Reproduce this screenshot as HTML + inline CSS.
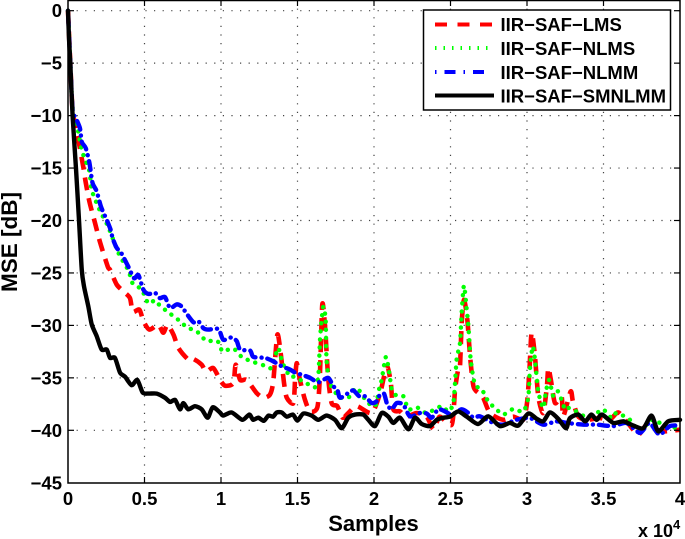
<!DOCTYPE html>
<html lang="en">
<head>
<meta charset="utf-8">
<title>MSE vs Samples</title>
<style>
html,body{margin:0;padding:0;background:#fff;width:685px;height:539px;overflow:hidden}
svg{display:block}
text{font-family:"Liberation Sans",sans-serif;font-weight:700;fill:#000}
.tick{font-size:18.5px}
.leg{font-size:18.5px}
</style>
</head>
<body>
<svg id="chart" width="685" height="539" viewBox="0 0 685 539" xmlns="http://www.w3.org/2000/svg">
<g id="grid"></g>
<g id="series"></g>
<rect x="68" y="0.5" width="612" height="482.5" fill="none" stroke="#000" stroke-width="1.5"></rect>
<g id="ticks"></g>
<text x="373.5" y="531" text-anchor="middle" font-size="22">Samples</text>
<text transform="translate(17,242) rotate(-90)" text-anchor="middle" font-size="22.5">MSE [dB]</text>
<text x="638" y="537" font-size="18">x 10<tspan font-size="13" dy="-8">4</tspan></text>
<g>
<rect x="423.5" y="10" width="247" height="100" fill="#fff" stroke="#000" stroke-width="1.5"></rect>
<line x1="435" y1="24.5" x2="492" y2="24.5" stroke="#f00" stroke-width="4" stroke-dasharray="12 10.5"></line>
<text class="leg" x="500.5" y="31">IIR−SAF−LMS</text>
<line x1="435" y1="48" x2="492" y2="48" stroke="#0f0" stroke-width="4" stroke-dasharray="1.5 7"></line>
<text class="leg" x="500.5" y="55">IIR−SAF−NLMS</text>
<line x1="435" y1="72" x2="492" y2="72" stroke="#00f" stroke-width="4" stroke-dasharray="1.5 8 11 8"></line>
<text class="leg" x="500.5" y="79">IIR−SAF−NLMM</text>
<line x1="435" y1="95.5" x2="494" y2="95.5" stroke="#000" stroke-width="4"></line>
<text class="leg" x="500.5" y="102.5">IIR−SAF−SMNLMM</text>
</g>
</svg>
<script>
const xTickValues = [0, 5000, 10000, 15000, 20000, 25000, 30000, 35000, 40000];
const xTickLabels = ['0', '0.5', '1', '1.5', '2', '2.5', '3', '3.5', '4'];
const yTickValues = [0, -5, -10, -15, -20, -25, -30, -35, -40, -45];
const yTickLabels = ['0', '−5', '−10', '−15', '−20', '−25', '−30', '−35', '−40', '−45'];

// sample index in thousands
const lmsSamples = [0,0.15,0.3,0.57,1,1.15,1.4,1.76,2.1,2.6,2.75,3.18,3.62,4.05,4.23,4.67,4.93,5.32,5.9,6.23,6.5,6.9,7.22,7.87,8.2,8.74,9.02,9.5,9.94,10.27,10.8,10.96,11.25,11.68,12.33,12.77,13.2,13.42,13.68,13.9,14.12,14.3,14.73,14.84,14.95,15.16,15.49,15.82,16.3,16.47,16.62,16.8,17,17.23,17.6,17.95,18.32,18.87,19.85,20.4,20.65,20.87,21.1,21.26,21.7,22.1,22.79,23.44,23.9,24.3,25.08,25.3,25.5,25.62,25.73,25.88,26.1,26.28,26.5,26.82,27.14,27.58,28.45,29.1,29.75,30,30.15,30.3,30.52,30.74,31.06,31.3,31.39,31.56,31.83,32.26,32.37,32.85,33,33.35,33.9,34.77,35.4,35.96,36.5,37.27,37.82,38.47,39,40];
const lmsValues = [0,-5,-9.5,-11.5,-14.9,-16.3,-18.2,-20.2,-22.1,-24.4,-24.7,-26.1,-26.76,-27.4,-28.7,-28.5,-29.6,-30.4,-29.94,-30.7,-29.94,-30.9,-32.16,-33.27,-33.2,-33.75,-34.4,-34.07,-35.2,-35.75,-35.5,-33.75,-35.2,-35.2,-36.45,-36.9,-36.6,-35.3,-30.9,-32.64,-35.5,-36.9,-37.4,-35.2,-33.6,-35.2,-37.1,-38.2,-37.8,-34.54,-28,-30.1,-34.9,-37.4,-37.7,-38.8,-38.35,-37.7,-38.35,-36.45,-34.9,-33.9,-35.5,-38,-38.2,-38.7,-38.35,-38.7,-39.9,-38.7,-39.46,-36.1,-34.2,-33.9,-29.8,-27.56,-29.46,-32.95,-35.8,-36.45,-36.9,-38.35,-39,-38.7,-39,-37.4,-34.54,-30.7,-32.95,-36.8,-38.35,-35.8,-34.06,-35.2,-37.4,-36.8,-38.67,-36.3,-37.24,-38.67,-39,-38.83,-39,-38.3,-39.14,-40.4,-39.46,-39.94,-40.1,-39.94];

const nlmsSamples = [0,0.15,0.3,0.6,0.9,1.4,1.55,2.1,2.63,3.3,3.93,4.05,4.23,4.82,5.25,5.69,6,6.56,7.2,7.76,8.41,8.74,9.07,9.68,9.94,10.1,10.8,11.35,12,12.77,13.25,13.53,13.75,14.03,14.5,14.77,15.49,16.14,16.36,16.47,16.58,16.69,16.84,16.9,17.12,17.67,17.89,18.32,18.87,19.52,20.07,20.35,20.5,20.78,21,21.16,21.48,21.92,22.25,22.79,23.44,24.42,24.86,25.2,25.4,25.62,25.73,25.88,26.06,26.17,26.32,26.6,27.03,27.47,28,28.45,29.1,29.75,30.08,30.19,30.37,30.52,30.74,31.06,31.24,31.45,31.72,32.04,32.48,32.7,33,33.8,34.55,34.98,35.53,35.86,36.73,37.38,38.14,39.1,40];
const nlmsValues = [0,-5,-9.3,-11,-13.3,-15.3,-17.1,-19.1,-20.6,-23.1,-24.7,-25.2,-26,-26.6,-27.9,-27.6,-28.1,-28.76,-29.46,-30.16,-30.57,-31.05,-31.5,-31.43,-31.84,-32.48,-32.2,-33,-33.43,-33.8,-34.07,-33,-32.16,-33.6,-34.86,-34.9,-35.43,-35.9,-34.86,-31.4,-29.46,-28.2,-29.46,-33.27,-35.5,-36.76,-36.9,-36.9,-35.97,-37.24,-37.7,-35.97,-35.2,-33,-34.54,-36.1,-36.7,-36.76,-38,-37.8,-38.35,-37.7,-38.2,-37.24,-33.27,-31.7,-28.8,-26.2,-28.5,-30.1,-33.27,-35.65,-36.06,-37.24,-38,-38.5,-37.97,-38.2,-36.9,-34.2,-32,-33.27,-36.3,-37.87,-36.3,-35.2,-36.76,-36.3,-38,-37.87,-38,-38.67,-38.35,-38,-38.83,-38.35,-39,-40.1,-39,-39.6,-39.8];

const nlmmSamples = [0,0.15,0.3,0.5,0.78,0.9,1.16,1.4,1.6,1.87,2.16,2.52,2.79,2.92,3.18,3.44,3.66,3.94,4.32,4.6,4.93,5.25,5.69,6,6.34,6.67,7.1,7.43,7.76,8.2,8.52,8.85,9.17,9.83,10.15,10.7,11.03,11.25,11.9,12.12,12.88,13.42,13.97,14.5,14.84,15.27,15.82,16.36,17,17.34,17.6,17.78,18.32,18.65,19.04,19.41,19.85,20.17,20.35,20.65,20.87,21.16,21.48,21.92,22.35,23,23.44,23.77,24.2,24.64,25.08,25.73,26.17,26.5,26.93,27.8,28.45,29.3,30.19,31.06,31.93,32.6,33.68,34.55,35.64,36.5,37.38,38,38.65,39.34,40];
const nlmmValues = [0,-5,-9.46,-10.2,-11.2,-12.5,-13.1,-14.5,-16.4,-17.2,-18.7,-19.9,-20.9,-21.7,-22.6,-23,-23.6,-24.4,-25.5,-25.2,-26.6,-27,-26.9,-27.4,-27.3,-28.35,-28,-28.2,-28.9,-29.7,-29.6,-30.26,-30.4,-30.35,-31.37,-31.14,-31.5,-32.3,-32.4,-33,-33.1,-33.43,-33.9,-34.2,-34.5,-34.7,-35,-35.43,-35,-35.8,-36.1,-36.9,-36.45,-36.2,-36.76,-36.76,-37.4,-37.24,-36.7,-36.5,-37.56,-38,-37.4,-37.56,-38.67,-38.35,-38.4,-38.8,-38,-38.2,-38.5,-38,-38.35,-38.8,-38.67,-39.3,-39.46,-39,-38.83,-39.46,-39.14,-39.3,-39.46,-39.46,-39.6,-39.3,-40.25,-39.3,-40.4,-39.6,-39.55];

const smnlmmSamples = [0,0.07,0.15,0.3,0.52,0.72,0.9,1.05,1.33,1.55,1.87,2.2,2.53,2.75,3.07,3.4,3.73,4.16,4.53,4.88,5.25,5.8,6.34,6.67,7,7.32,7.54,7.86,8.3,8.74,9.13,9.46,9.93,10.15,10.7,11.4,11.85,12.1,12.44,12.8,13.1,13.4,13.64,13.97,14.3,14.7,15,15.38,15.93,16.36,16.9,17.45,17.89,18.32,18.76,19.3,19.63,20.07,20.5,20.94,21.26,21.7,22.25,22.68,23.12,23.66,24.1,24.53,24.97,25.5,26.06,26.8,27.47,28.23,28.88,29.43,30.08,30.63,31.06,31.5,32.04,32.55,32.8,33.35,33.8,34.2,34.55,34.9,35.64,36.3,36.95,37.6,38.14,38.58,39.23,40];
const smnlmmValues = [0,-2.8,-5,-10,-15,-20,-24.7,-26.3,-28.2,-29.9,-31,-32.3,-32.3,-33.1,-33.1,-34.5,-34.9,-35.7,-35.2,-36.4,-36.5,-36.5,-36.9,-37.3,-37.1,-38,-37.4,-38,-37.7,-38,-38.8,-37.8,-38.3,-38.6,-38.3,-39,-38.5,-39,-38.8,-39.1,-38.6,-38.7,-38.3,-38.3,-38.7,-38.5,-39.07,-38.4,-38.6,-39,-38.6,-39,-39.8,-38.8,-38.5,-38.5,-39,-39.6,-38.35,-38.7,-39.3,-38.8,-39.9,-38.8,-39.4,-39.6,-39,-38.8,-38.7,-38.2,-38.7,-39.4,-38.67,-39.6,-39.3,-39.55,-38.4,-38.9,-39.14,-38.3,-38.9,-39.8,-38.85,-38.5,-39.14,-38.5,-39,-38.5,-39.3,-39.14,-39.55,-39.8,-38.6,-40.1,-39.14,-39];

const NS = 'http://www.w3.org/2000/svg';
const xScale = function (sample) { return 68 + (sample / 40000) * 612; };
const yScale = function (db) { return 10.7 - db * 10.49; };
const gridLayer = document.getElementById('grid');
const tickLayer = document.getElementById('ticks');
const seriesLayer = document.getElementById('series');

function makeLine(x1, y1, x2, y2, dashed) {
  const l = document.createElementNS(NS, 'line');
  l.setAttribute('x1', x1);
  l.setAttribute('y1', y1);
  l.setAttribute('x2', x2);
  l.setAttribute('y2', y2);
  l.setAttribute('stroke', dashed ? '#444' : '#000');
  l.setAttribute('stroke-width', 1.2);
  if (dashed) l.setAttribute('stroke-dasharray', '1.2 7.4');
  return l;
}

xTickValues.forEach(function (v, i) {
  const x = xScale(v);
  if (i > 0 && i < xTickValues.length - 1) {
    const g = makeLine(x, 0, x, 483, true);
    
    
    gridLayer.appendChild(g);
    const t1 = makeLine(x, 483, x, 477, false);
    
    
    tickLayer.appendChild(t1);
    const t2 = makeLine(x, 0, x, 6, false);
    
    
    tickLayer.appendChild(t2);
  }
  const label = document.createElementNS(NS, 'text');
  label.setAttribute('class', 'tick');
  label.setAttribute('x', x);
  label.setAttribute('y', 505);
  label.setAttribute('text-anchor', 'middle');
  
  
  label.textContent = xTickLabels[i];
  tickLayer.appendChild(label);
});

yTickValues.forEach(function (v, i) {
  const y = yScale(v);
  if (i < yTickValues.length - 1) {
    const g = makeLine(68, y, 680, y, true);
    
    
    gridLayer.appendChild(g);
    const t1 = makeLine(68, y, 74, y, false);
    
    
    tickLayer.appendChild(t1);
    const t2 = makeLine(680, y, 674, y, false);
    
    
    tickLayer.appendChild(t2);
  }
  const label = document.createElementNS(NS, 'text');
  label.setAttribute('class', 'tick');
  label.setAttribute('x', 62);
  label.setAttribute('y', y + 6.5);
  label.setAttribute('text-anchor', 'end');
  
  
  label.textContent = yTickLabels[i];
  tickLayer.appendChild(label);
});

// Catmull-Rom smoothing through the data points, for the rounded look of the original traces
function smoothPath(pts) {
  let d = 'M' + pts[0][0].toFixed(2) + ' ' + pts[0][1].toFixed(2);
  for (let i = 0; i < pts.length - 1; i++) {
    const p0 = pts[Math.max(i - 1, 0)];
    const p1 = pts[i];
    const p2 = pts[i + 1];
    const p3 = pts[Math.min(i + 2, pts.length - 1)];
    const k = 1 / 8;
    const c1x = p1[0] + (p2[0] - p0[0]) * k;
    const c1y = p1[1] + (p2[1] - p0[1]) * k;
    const c2x = p2[0] - (p3[0] - p1[0]) * k;
    const c2y = p2[1] - (p3[1] - p1[1]) * k;
    d += 'C' + c1x.toFixed(2) + ' ' + c1y.toFixed(2) + ' ' + c2x.toFixed(2) + ' ' + c2y.toFixed(2) + ' ' + p2[0].toFixed(2) + ' ' + p2[1].toFixed(2);
  }
  return d;
}

function drawSeries(samples, values, color, width, dash, cap, name) {
  const pts = samples.map(function (s, i) {
    return [xScale(s * 1000), yScale(values[i])];
  });
  const p = document.createElementNS(NS, 'path');
  p.setAttribute('d', smoothPath(pts));
  p.setAttribute('fill', 'none');
  p.setAttribute('stroke', color);
  p.setAttribute('stroke-width', width);
  p.setAttribute('stroke-linejoin', 'round');
  p.setAttribute('stroke-linecap', cap);
  if (dash) p.setAttribute('stroke-dasharray', dash);
  
  
  seriesLayer.appendChild(p);
}

drawSeries(lmsSamples, lmsValues, '#f00', 4.6, '13 8', 'butt', 'series-iir-saf-lms');
drawSeries(nlmsSamples, nlmsValues, '#0f0', 4.4, '0.1 8', 'round', 'series-iir-saf-nlms');
drawSeries(nlmmSamples, nlmmValues, '#00f', 4.4, '0.1 6 9 6', 'round', 'series-iir-saf-nlmm');
drawSeries(smnlmmSamples, smnlmmValues, '#000', 4.4, '', 'round', 'series-iir-saf-smnlmm');
</script>
</body>
</html>
